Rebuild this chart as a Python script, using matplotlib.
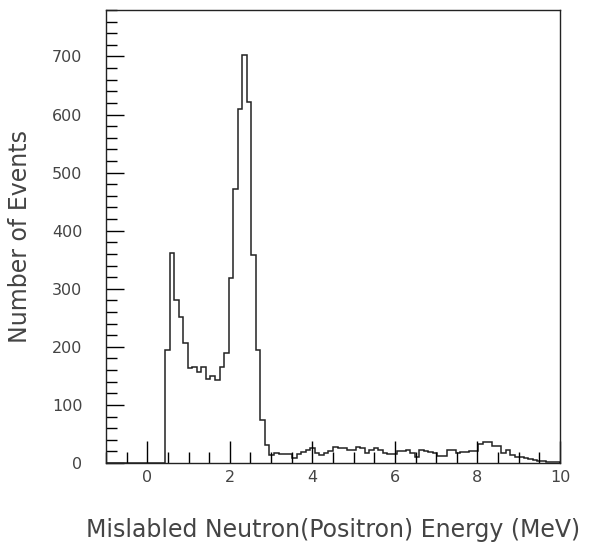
import matplotlib
matplotlib.use("Agg")
import matplotlib.pyplot as plt
import numpy as np

# 100 bins from -1 to 10 MeV
bin_lo, bin_hi, n_bins = -1.0, 10.0, 100
counts = [0] * 13 + [
    195, 361, 280, 251, 206, 163, 166, 156, 165, 144,
    149, 143, 166, 189, 318, 471, 610, 702, 621, 359,
    194, 74, 31, 14, 18, 16, 16, 16, 8, 15,
    19, 23, 25, 18, 14, 17, 20, 28, 25, 25,
    22, 22, 28, 25, 17, 22, 26, 22, 17, 16,
    16, 21, 21, 22, 18, 10, 22, 20, 19, 17,
    12, 12, 22, 22, 17, 19, 19, 21, 21, 33,
    36, 36, 29, 29, 18, 22, 14, 10, 10, 8,
    7, 6, 4, 3, 2, 1, 1,
]
x_ticks = [0, 2, 4, 6, 8, 10]
y_ticks = [0, 100, 200, 300, 400, 500, 600, 700]

edges = np.linspace(bin_lo, bin_hi, n_bins + 1)

fig = plt.figure(figsize=(5.91, 5.49), dpi=100)
ax = fig.add_axes([106 / 591, 1 - 463 / 549, 454 / 591, 453 / 549])

ax.stairs(counts, edges, color="#222222", linewidth=1.1)

ax.set_xlim(bin_lo, bin_hi)
ax.set_ylim(0, 780)
ax.set_xticks(x_ticks)
ax.set_xticks(np.arange(-1, 10.01, 0.5), minor=True)
ax.set_yticks(y_ticks)
ax.set_yticks(np.arange(0, 781, 20), minor=True)

txt = "#444444"
ax.tick_params(axis="x", which="major", direction="in", length=16, width=1,
               labelsize=11.5, pad=5, labelcolor=txt)
ax.tick_params(axis="x", which="minor", direction="in", length=8, width=1)
ax.tick_params(axis="y", which="major", direction="in", length=13, width=1,
               labelsize=11.5, pad=17, labelcolor=txt)
ax.tick_params(axis="y", which="minor", direction="in", length=8, width=1)
for s in ax.spines.values():
    s.set_linewidth(1)
    s.set_color("#222222")

ax.set_ylabel("Number of Events", fontsize=17, color=txt, labelpad=14)
ax.set_xlabel("Mislabled Neutron(Positron) Energy (MeV)", fontsize=17,
              color=txt, labelpad=24)

fig.savefig("out.png", dpi=100)
